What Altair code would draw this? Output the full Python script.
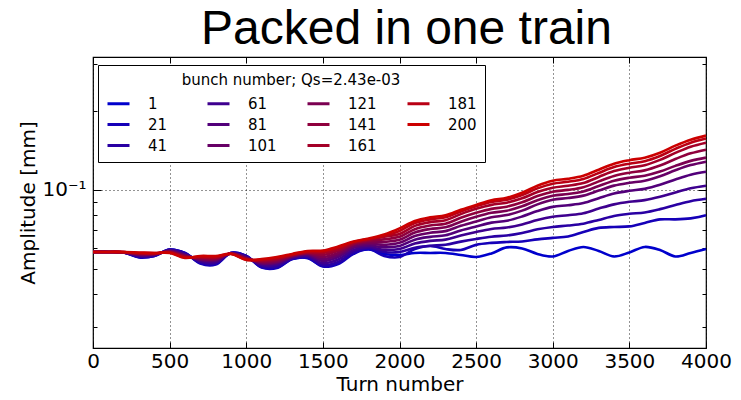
import altair as alt
import pandas as pd

# Turn grid on which every bunch amplitude is sampled
turns = list(range(0, 4001, 100))

bunches = [1, 21, 41, 61, 81, 101, 121, 141, 161, 181, 200]
bunch_colors = ["#0000cc", "#1500b8", "#2900a3", "#3e008f", "#52007a", "#670066",
                "#7b0051", "#8f003d", "#a40028", "#b90014", "#cc0000"]

# Amplitude [mm] per bunch, one value per entry of `turns`
amp_1 = [0.0580, 0.0580, 0.05775, 0.0555, 0.0560, 0.05925, 0.0575, 0.0526, 0.0522, 0.0575,
         0.0560, 0.0508, 0.0506, 0.0545, 0.0550, 0.0513, 0.0526, 0.0575, 0.05925, 0.0570,
         0.0565, 0.0575, 0.0575, 0.0575, 0.0565, 0.0555, 0.05725, 0.06035, 0.0598, 0.0570,
         0.05575, 0.0585, 0.0606, 0.0585, 0.05575, 0.05775, 0.0606, 0.0590, 0.05575, 0.0575,
         0.0595]
amp_21 = [0.0580, 0.0580, 0.05775, 0.05525, 0.0560, 0.05925, 0.0575, 0.0524, 0.05195, 0.0575,
          0.0560, 0.0506, 0.0504, 0.0545, 0.0550, 0.05105, 0.0522, 0.0570, 0.0595, 0.0560,
          0.0555, 0.0595, 0.0611, 0.0595, 0.0590, 0.0617, 0.0628, 0.0633, 0.0636, 0.06475,
          0.0656, 0.06645, 0.0691, 0.0716, 0.0722, 0.07255, 0.0748, 0.07715, 0.07715, 0.07785,
          0.07995]
amp_41 = [0.0580, 0.0580, 0.05775, 0.05575, 0.05615, 0.0591, 0.05725, 0.0530, 0.0525, 0.0575,
          0.0558, 0.0512, 0.0511, 0.05475, 0.0555, 0.0517, 0.0531, 0.0580, 0.0601, 0.0580,
          0.0580, 0.0602, 0.0612, 0.0618, 0.0635, 0.0650, 0.0663, 0.0670, 0.0685, 0.0707,
          0.0722, 0.0731, 0.0743, 0.0768, 0.0795, 0.0810, 0.0820, 0.0844, 0.0875, 0.0905,
          0.0924]
amp_61 = [0.0580, 0.0580, 0.05775, 0.0560, 0.0564, 0.0588, 0.0569, 0.0535, 0.0531, 0.0574,
          0.0555, 0.0517, 0.0518, 0.0551, 0.0560, 0.0526, 0.0543, 0.0590, 0.0606, 0.0590,
          0.0595, 0.0624, 0.0639, 0.0646, 0.0670, 0.0691, 0.0709, 0.0718, 0.0738, 0.0767,
          0.0789, 0.0800, 0.0814, 0.0848, 0.0880, 0.0900, 0.0913, 0.0940, 0.0977, 0.1013,
          0.1036]
amp_81 = [0.0580, 0.0580, 0.0578, 0.0564, 0.0566, 0.0586, 0.0565, 0.0540, 0.0537, 0.0573,
          0.0552, 0.0523, 0.0525, 0.0555, 0.0565, 0.0536, 0.0555, 0.0601, 0.0614, 0.06035,
          0.0611, 0.0646, 0.0662, 0.0671, 0.0700, 0.0725, 0.0750, 0.0762, 0.0791, 0.0830,
          0.0861, 0.0873, 0.0890, 0.0929, 0.0968, 0.0991, 0.1008, 0.1044, 0.1094, 0.1141,
          0.1171]
amp_101 = [0.0580, 0.0580, 0.0578, 0.0566, 0.0568, 0.0584, 0.0563, 0.0543, 0.0541, 0.05725,
           0.0550, 0.0526, 0.0530, 0.05575, 0.0570, 0.0545, 0.0565, 0.06085, 0.0622, 0.0617,
           0.0628, 0.0667, 0.0686, 0.0696, 0.0729, 0.0758, 0.0786, 0.0801, 0.0833, 0.0880,
           0.0916, 0.0930, 0.0950, 0.0993, 0.1037, 0.1063, 0.1083, 0.1126, 0.1186, 0.1241,
           0.1279]
amp_121 = [0.0580, 0.0580, 0.0578, 0.0568, 0.0569, 0.0582, 0.0560, 0.0546, 0.0544, 0.0572,
           0.0548, 0.0530, 0.0535, 0.0560, 0.05725, 0.0555, 0.0575, 0.0617, 0.06305, 0.0633,
           0.0645, 0.0688, 0.0709, 0.0720, 0.0756, 0.0789, 0.0817, 0.0832, 0.0865, 0.0913,
           0.0949, 0.0964, 0.0985, 0.1033, 0.1082, 0.1111, 0.1131, 0.1173, 0.1233, 0.1288,
           0.1325]
amp_141 = [0.0580, 0.0580, 0.0579, 0.0571, 0.0570, 0.0580, 0.05575, 0.0550, 0.0548, 0.0572,
           0.0546, 0.0534, 0.0540, 0.05625, 0.0575, 0.0565, 0.0585, 0.0622, 0.0639, 0.06475,
           0.0662, 0.0708, 0.0731, 0.0743, 0.0782, 0.0817, 0.0846, 0.0862, 0.0896, 0.0946,
           0.0983, 0.0999, 0.1023, 0.1076, 0.1129, 0.1161, 0.1185, 0.1236, 0.1309, 0.1376,
           0.1421]
amp_161 = [0.0580, 0.0580, 0.0579, 0.0573, 0.0572, 0.0578, 0.0555, 0.0553, 0.0552, 0.0571,
           0.0544, 0.0538, 0.0545, 0.0565, 0.05775, 0.0575, 0.05925, 0.0628, 0.0645, 0.0662,
           0.0679, 0.0729, 0.0753, 0.0766, 0.0808, 0.0846, 0.0876, 0.0893, 0.0928, 0.0980,
           0.1018, 0.1036, 0.1061, 0.1119, 0.1178, 0.1213, 0.1240, 0.1299, 0.1381, 0.1459,
           0.1511]
amp_181 = [0.0580, 0.0580, 0.0580, 0.0575, 0.0574, 0.0577, 0.05525, 0.0557, 0.0556, 0.0571,
           0.0542, 0.0542, 0.0550, 0.05675, 0.05825, 0.05825, 0.0601, 0.0633, 0.0650, 0.0667,
           0.0697, 0.0747, 0.07715, 0.07855, 0.0827, 0.0865, 0.0898, 0.0916, 0.0955, 0.1012,
           0.1054, 0.1073, 0.1100, 0.1159, 0.1220, 0.1257, 0.1285, 0.1345, 0.1431, 0.1511,
           0.1566]
amp_200 = [0.0580, 0.0580, 0.0580, 0.05775, 0.0575, 0.0575, 0.0550, 0.0560, 0.0560, 0.0570,
           0.0541, 0.0545, 0.0555, 0.0570, 0.0585, 0.05875, 0.06085, 0.0636, 0.0653, 0.0676,
           0.0713, 0.0761, 0.07855, 0.07995, 0.0839, 0.0876, 0.0912, 0.0932, 0.0974, 0.1036,
           0.1082, 0.1101, 0.1131, 0.1192, 0.1257, 0.1296, 0.1325, 0.1384, 0.1472, 0.1551,
           0.1607]

series = [amp_1, amp_21, amp_41, amp_61, amp_81, amp_101,
          amp_121, amp_141, amp_161, amp_181, amp_200]

x_ticks = list(range(0, 4001, 500))
y_ticks = [0.03, 0.04, 0.05, 0.06, 0.07, 0.08, 0.09, 0.1, 0.2, 0.3]
chart_title = ["Packed in one train"]

rows = []
for b, amps in zip(bunches, series):
    for t, a in zip(turns, amps):
        rows.append({"bunch": b, "turn": t, "amp": a})
df = pd.DataFrame(rows)

W, H = 613, 291
FONT = "DejaVu Sans"

x_scale = alt.Scale(domain=[0, 4000], nice=False, zero=False)
y_scale = alt.Scale(type="log", domain=[0.025, 0.32], nice=False)
color_scale = alt.Scale(domain=bunches, range=bunch_colors)

major_y = {"condition": {"test": "datum.value == 0.1", "value": 8}, "value": 4}

lines = alt.Chart(df).mark_line(strokeWidth=2.6, interpolate="catmull-rom").encode(
    x=alt.X("turn:Q", scale=x_scale, axis=alt.Axis(
        values=x_ticks, format="d", title="Turn number", labelFlush=False,
        labelFont=FONT, labelFontSize=20, labelColor="black", labelPadding=3,
        titleFont=FONT, titleFontSize=20, titleFontWeight="normal", titleColor="black",
        titleBaseline="top", titleY=26,
        ticks=False, domain=False,
        grid=True, gridColor="black", gridDash=[1, 3], gridWidth=1, gridOpacity=0.85)),
    y=alt.Y("amp:Q", scale=y_scale, axis=alt.Axis(
        values=y_ticks, labelExpr="datum.value == 0.1 ? '10⁻¹' : ''",
        title="Amplitude [mm]",
        labelFont=FONT, labelFontSize=20, labelColor="black", labelPadding=7,
        titleFont=FONT, titleFontSize=20, titleFontWeight="normal", titleColor="black",
        titleX=-55, titleY=H / 2,
        ticks=False, domain=False,
        grid=True, gridColor="black", gridDash=[1, 3], gridWidth=1,
        gridOpacity={"condition": {"test": "datum.value == 0.1", "value": 0.85}, "value": 0})),
    color=alt.Color("bunch:N", scale=color_scale, legend=alt.Legend(
        title="bunch number; Qs=2.43e-03", orient="none", legendX=5, legendY=8,
        columns=4, gridAlign="all", titleLimit=400,
        symbolType="stroke", symbolSize=484, symbolStrokeWidth=3, symbolOpacity=1,
        labelFont=FONT, labelFontSize=15, labelColor="black", labelOffset=17,
        titleFont=FONT, titleFontSize=15, titleFontWeight="normal", titleColor="black",
        titleAnchor="middle", titlePadding=3,
        padding=8, columnPadding=24, rowPadding=0,
        strokeColor="black", fillColor="white", cornerRadius=0)),
)

# Invisible copies that carry inward-pointing ticks on all four frame edges
ticks_low = alt.Chart(df).mark_line(opacity=0, strokeOpacity=0).encode(
    x=alt.X("turn:Q", scale=x_scale, axis=alt.Axis(
        orient="top", offset=-H, values=x_ticks, labels=False, title=None,
        domain=False, grid=False, ticks=True, tickSize=6, tickColor="black", tickWidth=1)),
    y=alt.Y("amp:Q", scale=y_scale, axis=alt.Axis(
        orient="right", offset=-W, values=y_ticks, labels=False, title=None,
        domain=False, grid=False, ticks=True, tickSize=major_y, tickColor="black", tickWidth=1)),
)
ticks_high = alt.Chart(df).mark_line(opacity=0, strokeOpacity=0).encode(
    x=alt.X("turn:Q", scale=x_scale, axis=alt.Axis(
        orient="bottom", offset=-H, values=x_ticks, labels=False, title=None,
        domain=False, grid=False, ticks=True, tickSize=6, tickColor="black", tickWidth=1)),
    y=alt.Y("amp:Q", scale=y_scale, axis=alt.Axis(
        orient="left", offset=-W, values=y_ticks, labels=False, title=None,
        domain=False, grid=False, ticks=True, tickSize=major_y, tickColor="black", tickWidth=1)),
)

# Heading drawn as a text mark centred over the plot area
heading = alt.Chart(pd.DataFrame({"label": chart_title})).mark_text(
    font="Liberation Sans", fontSize=48, color="black", align="center", baseline="alphabetic"
).encode(text="label:N", x=alt.value(W / 2 + 7), y=alt.value(-13))

chart = alt.layer(lines, ticks_low, ticks_high, heading).resolve_axis(
    x="independent", y="independent"
).properties(
    width=W, height=H,
    padding={"left": 93, "top": 57, "right": 35, "bottom": 52},
    autosize=alt.AutoSizeParams(type="none"),
    background="white",
).configure_view(stroke="black", strokeWidth=1.2)

chart.save("out.html", embed_options={"renderer": "svg", "actions": False})
